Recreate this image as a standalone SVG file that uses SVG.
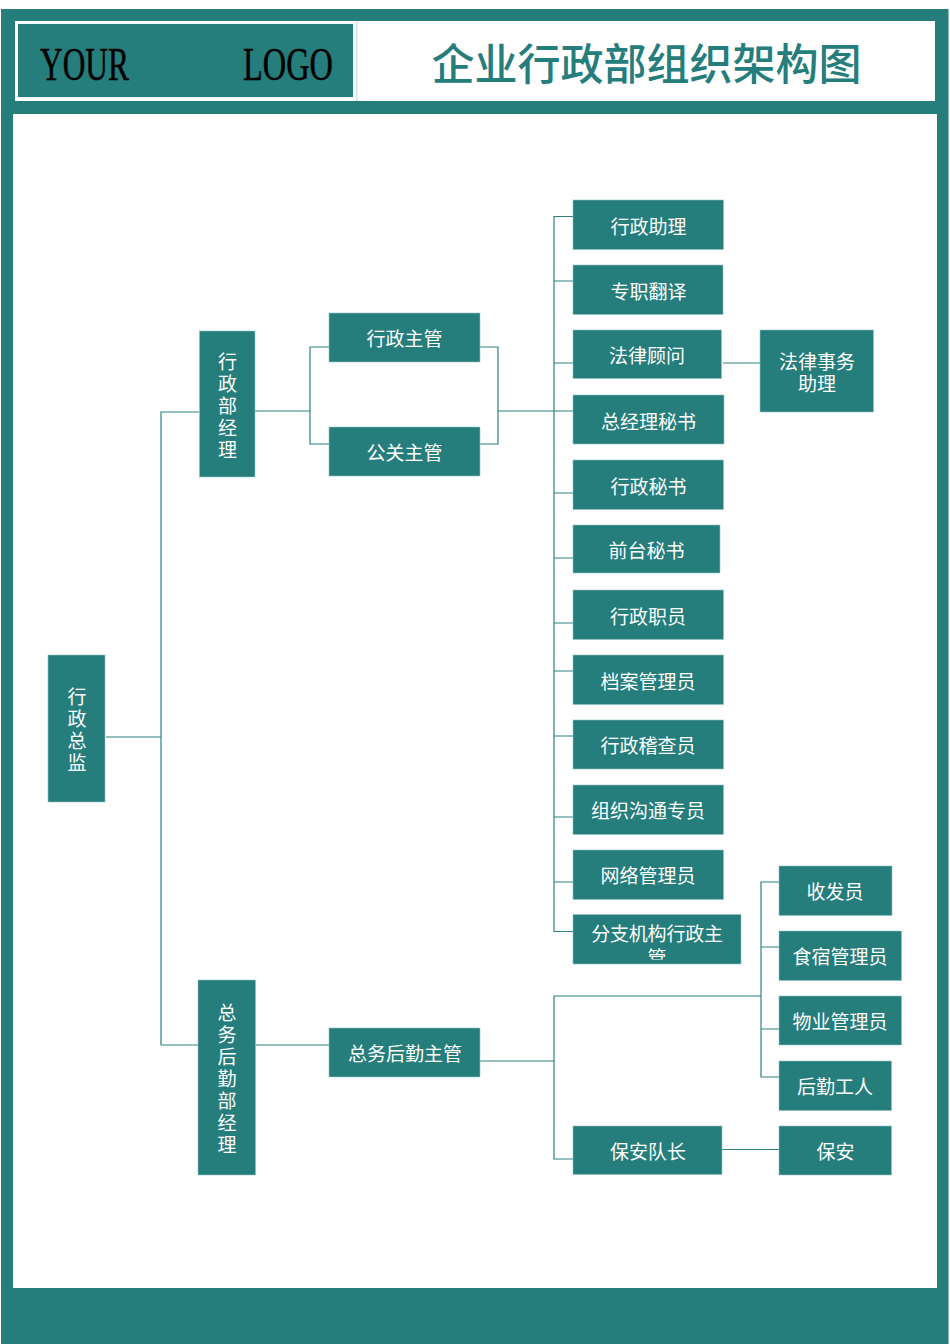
<svg xmlns="http://www.w3.org/2000/svg" width="950" height="1344" viewBox="0 0 950 1344">
<style>
.bar{fill:#257d7c}
.box{fill:#257d7c;stroke:#8fc4c2;stroke-width:.6}
.t{font-family:"Noto Sans CJK SC","Noto Sans CJK TC",sans-serif;font-size:19px;fill:#fff;text-anchor:middle}
.v{writing-mode:vertical-rl;letter-spacing:3px}
.logo{font-family:"Liberation Serif",serif;font-size:46px;fill:#000;stroke:#000;stroke-width:.5}
.title{font-family:"Noto Sans CJK SC","Noto Sans CJK TC",sans-serif;font-size:43px;font-weight:500;fill:#257d7c;text-anchor:middle}
#connectors path{fill:none;stroke:#2f8280;stroke-width:1.2}
</style>
<defs><clipPath id="cut"><rect x="573" y="944" width="168" height="15.500"/></clipPath></defs>
<rect width="950" height="1344" fill="#fff"/>
<g id="frame">
<rect class="bar" x="1" y="9" width="947.500" height="1335"/>
<rect x="15" y="21" width="920" height="80" fill="#fff"/>
<rect x="13" y="114" width="924" height="1174" fill="#fff"/>
</g>
<g id="header">
<rect x="356.500" y="21" width="0.800" height="80" fill="#a9cfcd"/>
<rect class="bar" x="18" y="24" width="335" height="73"/>
<text class="logo" x="40" y="80" textLength="89" lengthAdjust="spacingAndGlyphs">YOUR</text>
<text class="logo" x="243" y="80" textLength="90" lengthAdjust="spacingAndGlyphs">LOGO</text>
<text class="title" x="646.500" y="80">企业行政部组织架构图</text>
</g>
<g id="connectors">
<path d="M106 737H161M199 412H161V1045H198"/>
<path d="M255 411H310M329 347H310V444H329"/>
<path d="M480 347H498V444H480M498 411H554"/>
<path d="M573 216.500H554V931.500H573M554 281H573M554 363H573M554 411H573M554 493H573M554 558H573M554 623H573M554 671H573M554 736H573M554 817H573M554 882H573"/>
<path d="M723 363H760"/>
<path d="M255 1045H329"/>
<path d="M480 1061H554M573 1159H554V996H761M779 882H761V1077H779M761 947H779M761 1029H779"/>
<path d="M722 1149.500H779"/>
</g>
<g id="n-zongjian"><rect class="box" x="48" y="655" width="57" height="147"/><text class="t v" x="77" y="731.500">行政总监</text></g>
<g id="n-bujingli"><rect class="box" x="199.500" y="331" width="55.500" height="146"/><text class="t v" x="227.500" y="407.500">行政部经理</text></g>
<g id="n-zongwubu"><rect class="box" x="198" y="980" width="57.500" height="195"/><text class="t v" x="227" y="1080.500">总务后勤部经理</text></g>
<g id="n-xingzhengzhuguan"><rect class="box" x="329" y="313" width="151" height="49"/><text class="t" x="404.500" y="346">行政主管</text></g>
<g id="n-gongguan"><rect class="box" x="329" y="427" width="151" height="49"/><text class="t" x="404.500" y="459.500">公关主管</text></g>
<g id="n-houqin"><rect class="box" x="329" y="1028" width="151" height="49"/><text class="t" x="405" y="1061">总务后勤主管</text></g>
<g id="n-zhuli"><rect class="box" x="573" y="200" width="150.500" height="49.500"/><text class="t" x="648.500" y="233.500">行政助理</text></g>
<g id="n-fanyi"><rect class="box" x="573" y="265" width="150" height="49.500"/><text class="t" x="648.500" y="298.500">专职翻译</text></g>
<g id="n-guwen"><rect class="box" x="573" y="330" width="148.500" height="48.500"/><text class="t" x="647" y="363">法律顾问</text></g>
<g id="n-mishu"><rect class="box" x="573" y="395" width="151" height="49"/><text class="t" x="648.500" y="428.500">总经理秘书</text></g>
<g id="n-xzmishu"><rect class="box" x="573" y="460" width="150.500" height="49.500"/><text class="t" x="648.500" y="493.500">行政秘书</text></g>
<g id="n-qiantai"><rect class="box" x="573" y="525" width="147" height="48"/><text class="t" x="646.500" y="558">前台秘书</text></g>
<g id="n-zhiyuan"><rect class="box" x="573" y="590" width="150.500" height="49.500"/><text class="t" x="648" y="623.500">行政职员</text></g>
<g id="n-dangan"><rect class="box" x="573" y="655" width="150.500" height="49.500"/><text class="t" x="648" y="688.500">档案管理员</text></g>
<g id="n-jicha"><rect class="box" x="573" y="720" width="150.500" height="49"/><text class="t" x="648" y="753">行政稽查员</text></g>
<g id="n-goutong"><rect class="box" x="573" y="785" width="150.500" height="49.500"/><text class="t" x="648" y="818">组织沟通专员</text></g>
<g id="n-wangluo"><rect class="box" x="573" y="850" width="150.500" height="49.500"/><text class="t" x="648" y="883">网络管理员</text></g>
<g id="n-fenzhi"><rect class="box" x="573" y="914.500" width="168" height="49.500"/><text class="t" x="657" y="941" letter-spacing="-0.200">分支机构行政主</text><g clip-path="url(#cut)"><text class="t" x="657" y="964.500">管</text></g></g>
<g id="n-fawu"><rect class="box" x="760" y="330" width="113.500" height="82"/><text class="t"><tspan x="817" y="369">法律事务</tspan><tspan x="817" y="391">助理</tspan></text></g>
<g id="n-shoufa"><rect class="box" x="779" y="866" width="113" height="49.500"/><text class="t" x="835" y="899">收发员</text></g>
<g id="n-shisu"><rect class="box" x="779" y="931" width="122.500" height="49.500"/><text class="t" x="840" y="964">食宿管理员</text></g>
<g id="n-wuye"><rect class="box" x="779" y="996" width="122.500" height="49"/><text class="t" x="840" y="1029">物业管理员</text></g>
<g id="n-gongren"><rect class="box" x="779" y="1061" width="112.500" height="49.500"/><text class="t" x="835" y="1094">后勤工人</text></g>
<g id="n-duizhang"><rect class="box" x="573" y="1126" width="149" height="48.500"/><text class="t" x="648" y="1159">保安队长</text></g>
<g id="n-baoan"><rect class="box" x="779" y="1126" width="112.500" height="49"/><text class="t" x="835.500" y="1159">保安</text></g>
</svg>
